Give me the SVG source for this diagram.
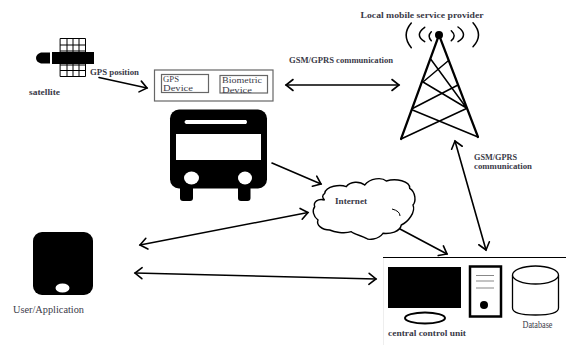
<svg xmlns="http://www.w3.org/2000/svg" width="566" height="345" viewBox="0 0 566 345">
<style>
text{font-family:"Liberation Serif","Times New Roman",serif;fill:#3a3a48;font-size:8px}
.b{font-weight:bold}
.m{font-size:9px}
.n{font-size:9.500px}
.k{fill:#000;stroke:none}
.w{fill:#fff;stroke:none}
.c{fill:none;stroke:#000;stroke-width:1.600;stroke-linecap:round;marker-end:url(#a)}
.d{marker-start:url(#a)}
.t{fill:none;stroke:#000;stroke-linecap:round}
.g{fill:#fff;stroke:#666;stroke-width:1.200}
</style>
<defs>
<marker id="a" markerUnits="userSpaceOnUse" markerWidth="14" markerHeight="14" refX="9" refY="7" orient="auto-start-reverse">
<path d="M2 1.500 9 7 2 12.500" fill="none" stroke="#000" stroke-width="1.600" stroke-linecap="round"/>
</marker>
</defs>
<rect width="566" height="345" fill="#fff"/>
<g id="satellite">
<path class="t" stroke-width="1" d="M60.500 38.500H85.500V76.500H60.500ZM60.500 45H85.500M60.500 51H85.500M60.500 65H85.500M60.500 70.500H85.500M67 38.500V76.500M73 38.500V76.500M79 38.500V76.500"/>
<rect class="k" x="52" y="52" width="42" height="12"/>
<path class="k" d="M50 52.500V63.500H41Q36 62 36 58Q36 54 41 52.500Z"/>
<text class="b" x="29" y="94.500" style="font-size:8.500px" textLength="31" lengthAdjust="spacingAndGlyphs">satellite</text>
</g>
<g id="device">
<rect class="g" x="154.500" y="70" width="118.500" height="31"/>
<rect class="g" x="161.500" y="74.500" width="47" height="18"/>
<rect class="g" x="220" y="75.500" width="47.500" height="17.500"/>
<text class="m" x="163" y="81.500" textLength="16" lengthAdjust="spacingAndGlyphs">GPS</text>
<text class="m" x="163" y="91" textLength="30" lengthAdjust="spacingAndGlyphs">Device</text>
<text class="m" x="222" y="83" textLength="40" lengthAdjust="spacingAndGlyphs">Biometric</text>
<text class="m" x="222" y="92.500" textLength="30" lengthAdjust="spacingAndGlyphs">Device</text>
</g>
<g id="bus">
<rect class="k" x="170" y="109.500" width="97" height="79" rx="9"/>
<rect class="k" x="180" y="185" width="13" height="16" rx="3"/>
<rect class="k" x="238" y="185" width="12.500" height="16" rx="3"/>
<path class="w" d="M186 120H246Q248 122 246 124H186Q183 122 186 120Z"/>
<rect class="w" x="176" y="134" width="85" height="26"/>
<ellipse class="w" cx="191.500" cy="178" rx="7.500" ry="6.500"/>
<ellipse class="w" cx="245" cy="178" rx="7" ry="6.500"/>
</g>
<g id="user">
<rect class="k" x="33" y="232" width="60" height="63" rx="9"/>
<ellipse class="w" cx="62.500" cy="288" rx="7" ry="4.500"/>
<text class="n" x="13" y="313" textLength="71" lengthAdjust="spacingAndGlyphs">User/Application</text>
</g>
<g id="tower">
<text class="b" x="360.500" y="18" textLength="123" lengthAdjust="spacingAndGlyphs">Local mobile service provider</text>
<circle class="k" cx="439" cy="35" r="4"/>
<path class="t" stroke-width="2.200" d="M439 35 401 139M439 35 478 137"/>
<path class="t" stroke-width="1.500" d="M431 59.500 466.500 108M448 61 423 82M423 82 466.500 108M458 85 412.500 108.500M412.500 110 478 137M466.500 108.500 401 139"/>
<path class="t" stroke-width="1.500" d="M411.300 23Q401 35 411.300 47.700M473 22.700Q484 35 473 46.700M424.700 27.300Q414 35 424.700 41.700M458 27Q469 35 458 41.700M431.300 31.700Q427 36 431.300 40.700M451.300 30.700Q457 36 451.300 40.700"/>
</g>
<g id="internet">
<path d="M324.700 193.300C326 186 340 184 346.300 186.700C350 181 360 181 364.700 185C370 178 382 177 386.300 181C396 178 410 181 409.700 188.300C416 192 416 202 413 205C416 212 408 222 401.300 225C400 232 390 234 383 233.300C378 240 368 240 366.300 238.300C362 236 354 234 351.300 231.700C344 234 334 232 329.700 230C322 230 316 225 318 220C313 216 312 210 314.700 206.700C313 202 318 198 324.700 200C322 198 322 195 324.700 193.300Z" fill="#fff" stroke="#000" stroke-width="1.400"/>
<path d="M392 209Q400 211 400 216" fill="none" stroke="#000" stroke-width="1"/>
<text class="b" x="335" y="204" textLength="32" lengthAdjust="spacingAndGlyphs">Internet</text>
</g>
<g id="central">
<path d="M383.500 257V345" stroke="#eee" fill="none"/>
<path d="M383 257.500H566" stroke="#000" stroke-width="1.200" fill="none"/>
<rect class="k" x="388" y="267" width="73" height="41"/>
<ellipse cx="425" cy="318" rx="20" ry="5.500" fill="#fff" stroke="#000" stroke-width="2"/>
<rect x="470" y="266.500" width="31" height="50" fill="#fff" stroke="#000" stroke-width="2.500"/>
<path d="M476 275.500H494M476 281H494M476 288H494" stroke="#888" stroke-width="1.200" fill="none"/>
<circle class="k" cx="484" cy="305" r="4"/>
<path d="M512.500 275V308Q512.500 315 535.500 315Q558.500 315 558.500 308V275" fill="#fff" stroke="#000" stroke-width="1.300"/>
<ellipse cx="535.500" cy="275" rx="23" ry="9" fill="#fff" stroke="#000" stroke-width="1.300"/>
<text class="b" x="388" y="336" textLength="78" lengthAdjust="spacingAndGlyphs">central control unit</text>
<text class="n" x="522.500" y="328" textLength="30" lengthAdjust="spacingAndGlyphs">Database</text>
</g>
<g id="connectors">
<path class="c" d="M99 77.500 147 88"/>
<path class="c d" d="M286 85H399"/>
<path class="c" d="M272 163 321 184"/>
<path class="c d" d="M140 245 308 212.500"/>
<path class="c d" d="M135 273 376 279"/>
<path class="c" d="M400 229 447 254"/>
<path class="c d" d="M455 141 486 250"/>
</g>
<text class="b" x="90" y="75" textLength="49" lengthAdjust="spacingAndGlyphs">GPS position</text>
<text class="b" x="289" y="63" textLength="104" lengthAdjust="spacingAndGlyphs">GSM/GPRS communication</text>
<text class="b" x="474" y="160" textLength="43" lengthAdjust="spacingAndGlyphs">GSM/GPRS</text>
<text class="b" x="474" y="169" textLength="58" lengthAdjust="spacingAndGlyphs">communication</text>
</svg>
